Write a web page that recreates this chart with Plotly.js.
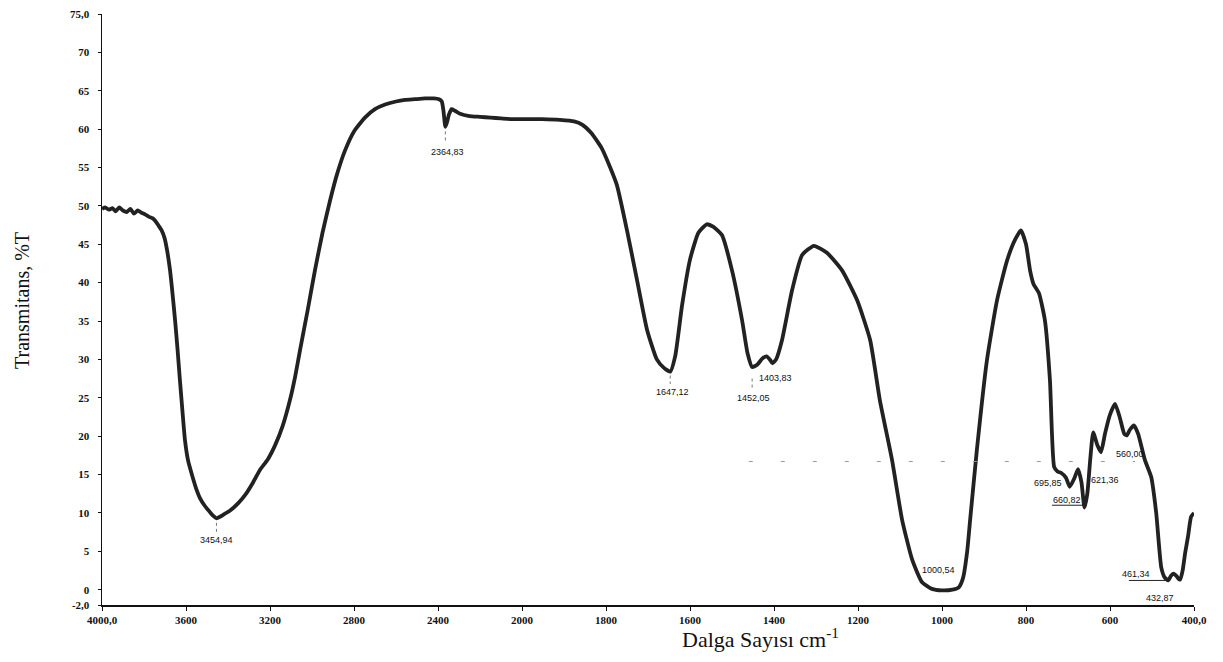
<!DOCTYPE html>
<html>
<head>
<meta charset="utf-8">
<script src="https://cdn.plot.ly/plotly-3.0.1.min.js"></script>
<style>
  html, body { margin: 0; padding: 0; background: #ffffff; }
  #chart { width: 1223px; height: 662px; }
</style>
</head>
<body>
<div id="chart"></div>
<script>
// FTIR spectrum: transmittance (%T) versus wavenumber (cm-1).
// The axis is compressed 2:1 above 2000 cm-1, so the spectrum is split
// into a high-wavenumber part (4000-2000) and a low-wavenumber part (2000-400).

const wnHigh = [4000, 3985, 3968, 3950, 3935, 3918, 3900, 3882, 3865, 3848,
  3830, 3812, 3795, 3778, 3760, 3745, 3730, 3716, 3702, 3690,
  3676, 3664, 3652, 3640, 3629, 3617, 3605, 3590, 3571, 3552,
  3533, 3510, 3486, 3470, 3454.94, 3438, 3420, 3390, 3350, 3319,
  3280, 3248, 3210, 3176, 3140, 3105, 3080, 3057, 3020, 2986,
  2950, 2914, 2880, 2843, 2800, 2748, 2700, 2652, 2600, 2557,
  2510, 2462, 2420, 2395, 2382, 2374, 2364.83, 2356, 2348, 2335,
  2320, 2295, 2250, 2200, 2150, 2100, 2050, 2000];
const tHigh = [49.6, 49.8, 49.5, 49.7, 49.3, 49.8, 49.4, 49.2, 49.6, 49.0,
  49.4, 49.1, 48.9, 48.6, 48.4, 48.0, 47.4, 46.8, 45.8, 44.2,
  41.6, 38.5, 35.1, 31.2, 27.3, 23.3, 19.5, 16.8, 14.9, 13.2,
  11.9, 10.9, 10.1, 9.6, 9.3, 9.5, 9.8, 10.3, 11.3, 12.3,
  14.0, 15.6, 17.0, 18.8, 21.3, 24.7, 27.8, 31.2, 36.5, 41.6,
  46.5, 50.7, 54.2, 57.2, 59.7, 61.5, 62.6, 63.2, 63.6, 63.8,
  63.9, 64.0, 64.0, 63.9, 63.6, 62.4, 60.3, 61.0, 61.9, 62.6,
  62.4, 62.0, 61.7, 61.6, 61.5, 61.4, 61.3, 61.3];

const wnLow = [2000, 1952, 1910, 1876, 1857, 1835, 1810, 1790, 1774, 1750,
  1726, 1702, 1679, 1662, 1647.12, 1635, 1619, 1600, 1580, 1560,
  1545, 1524, 1500, 1476, 1463, 1452.05, 1440, 1428, 1418, 1410,
  1403.83, 1395, 1381, 1357, 1333, 1305, 1274, 1238, 1202, 1171,
  1148, 1119, 1095, 1071, 1048, 1024, 1000.54, 975, 960, 950,
  940, 933, 917, 893, 869, 845, 826, 812, 800, 790,
  782, 769, 755, 743, 733, 725, 716, 705, 695.85, 685,
  676, 668, 660.82, 654, 647, 640, 630, 621.36, 612, 600,
  588, 577, 566, 560.00, 553, 543, 533, 517, 502, 490,
  478, 470, 461.34, 455, 449, 442, 437, 432.87, 427, 421,
  414, 407, 400];
const tLow = [61.3, 61.3, 61.2, 61.0, 60.6, 59.5, 57.5, 55.0, 52.7, 46.8,
  40.3, 33.8, 30.0, 28.9, 28.4, 30.5, 37.0, 43.0, 46.5, 47.6,
  47.3, 46.2, 41.6, 35.1, 30.8, 29.0, 29.3, 30.1, 30.4, 30.0,
  29.5, 30.0, 32.5, 39.0, 43.6, 44.8, 43.9, 41.6, 37.7, 32.5,
  24.7, 16.9, 9.1, 3.9, 1.0, 0.1, -0.1, 0.0, 0.3, 1.5,
  5.0, 9.1, 18.2, 29.9, 37.7, 42.9, 45.6, 46.8, 45.0, 41.5,
  39.8, 38.6, 35.1, 27.3, 16.0, 15.4, 15.2, 14.6, 13.4, 14.5,
  15.7, 14.0, 10.7, 12.5, 17.0, 20.5, 18.8, 17.9, 20.3, 22.8,
  24.2, 22.5, 20.3, 20.1, 20.8, 21.4, 20.3, 16.9, 14.7, 10.0,
  2.9, 1.6, 1.2, 1.8, 2.1, 1.8, 1.4, 1.3, 2.5, 4.8,
  7.0, 9.5, 10.0];

// Picked band positions (cm-1)
const peakWn = [3454.94, 2364.83, 1647.12, 1452.05, 1403.83, 1000.54,
  695.85, 660.82, 621.36, 560.00, 461.34, 432.87];

// Axis ticks
const yTickVals = [-2, 0, 5, 10, 15, 20, 25, 30, 35, 40, 45, 50, 55, 60, 65, 70, 75];
const yTickText = ['-2,0', '0', '5', '10', '15', '20', '25', '30', '35', '40', '45', '50', '55', '60', '65', '70', '75,0'];
const xHighTickVals = [4000, 3600, 3200, 2800, 2400];
const xHighTickText = ['4000,0', '3600', '3200', '2800', '2400'];
const xLowTickVals = [2000, 1800, 1600, 1400, 1200, 1000, 800, 600, 400];
const xLowTickText = ['2000', '1800', '1600', '1400', '1200', '1000', '800', '600', '400,0'];

// Label offsets (pixels) for each picked band, in peakWn order
const labelShift = [
  [0, -22], [2, -25], [2, -20], [1, -31], [3, -15], [-3, 20],
  [-22, 4], [-17, 8], [4, -28], [3, -19], [-32, 6], [-20, -18]
];

const lineStyle = { color: '#222222', width: 3.8, shape: 'spline', smoothing: 0.5 };

const traces = [
  { x: wnHigh, y: tHigh, type: 'scatter', mode: 'lines', xaxis: 'x', yaxis: 'y',
    line: lineStyle, hoverinfo: 'skip', showlegend: false },
  { x: wnLow, y: tLow, type: 'scatter', mode: 'lines', xaxis: 'x2', yaxis: 'y',
    line: lineStyle, hoverinfo: 'skip', showlegend: false }
];

function bandValue(wn) {
  let i = wnHigh.indexOf(wn);
  if (i >= 0) return { axis: 'x', t: tHigh[i] };
  i = wnLow.indexOf(wn);
  return { axis: 'x2', t: tLow[i] };
}

const tickFont = { family: 'Liberation Serif, Times New Roman, serif', size: 11, color: '#111111', weight: 'bold' };
const labelFont = { family: 'Liberation Sans Narrow, Liberation Sans, Arial, sans-serif', size: 9, color: '#111111' };

const annotations = peakWn.map((wn, k) => {
  const b = bandValue(wn);
  return {
    x: wn, y: b.t, xref: b.axis, yref: 'y',
    text: wn.toFixed(2).replace('.', ','),
    showarrow: false, font: labelFont,
    xshift: labelShift[k][0], yshift: labelShift[k][1],
    xanchor: 'center', yanchor: 'middle'
  };
});

annotations.push({
  text: 'Transmitans, %T', xref: 'paper', yref: 'paper',
  x: -0.0733, y: 0.516, textangle: -90, showarrow: false,
  xanchor: 'center', yanchor: 'middle',
  font: { family: 'Liberation Serif, Times New Roman, serif', size: 20, color: '#111111' }
});
annotations.push({
  text: 'Dalga Sayısı cm<sup>-1</sup>', xref: 'paper', yref: 'paper',
  x: 0.603, y: -0.056, showarrow: false,
  xanchor: 'center', yanchor: 'middle',
  font: { family: 'Liberation Serif, Times New Roman, serif', size: 22, color: '#111111' }
});

// Short pointer ticks under some bands, underlines and the peak-pick threshold
function pointer(wn, dy0, dy1) {
  const b = bandValue(wn);
  return { type: 'line', xref: b.axis, yref: 'y', x0: wn, x1: wn,
    y0: b.t - dy0, y1: b.t - dy1, line: { color: '#777777', width: 1, dash: 'dot' } };
}
const shapes = [
  pointer(3454.94, 0.6, 2.0),
  pointer(2364.83, 0.6, 2.0),
  pointer(1647.12, 0.5, 1.6),
  pointer(1452.05, 1.5, 3.0),
  { type: 'line', xref: 'x2', yref: 'y', x0: 738, x1: 660.82, y0: 11.0, y1: 11.0,
    line: { color: '#222222', width: 1 } },
  { type: 'line', xref: 'x2', yref: 'y', x0: 555, x1: 461.34, y0: 1.2, y1: 1.2,
    line: { color: '#222222', width: 1 } },
  { type: 'line', xref: 'x2', yref: 'y', x0: 1460, x1: 540, y0: 16.7, y1: 16.7,
    line: { color: '#9a9a9a', width: 1, dash: '4px,28px' } }
];

const axisCommon = {
  showline: true, linecolor: '#111111', linewidth: 1.5, mirror: false,
  ticks: 'outside', ticklen: 4, tickwidth: 1, tickcolor: '#111111',
  showgrid: false, zeroline: false, tickfont: tickFont, fixedrange: true
};

const layout = {
  width: 1223, height: 662,
  margin: { l: 102, r: 29, t: 14, b: 57 },
  paper_bgcolor: '#ffffff', plot_bgcolor: '#ffffff',
  showlegend: false,
  xaxis: Object.assign({}, axisCommon, {
    domain: [0, 5 / 13], range: [4000, 2000], anchor: 'y',
    tickmode: 'array', tickvals: xHighTickVals, ticktext: xHighTickText
  }),
  xaxis2: Object.assign({}, axisCommon, {
    domain: [5 / 13, 1], range: [2000, 400], anchor: 'y',
    tickmode: 'array', tickvals: xLowTickVals, ticktext: xLowTickText
  }),
  yaxis: Object.assign({}, axisCommon, {
    range: [-2, 75], ticklen: 3, ticklabelstandoff: 6,
    tickmode: 'array', tickvals: yTickVals, ticktext: yTickText
  }),
  annotations: annotations,
  shapes: shapes
};

Plotly.newPlot('chart', traces, layout, { staticPlot: true, displayModeBar: false });
</script>
</body>
</html>
